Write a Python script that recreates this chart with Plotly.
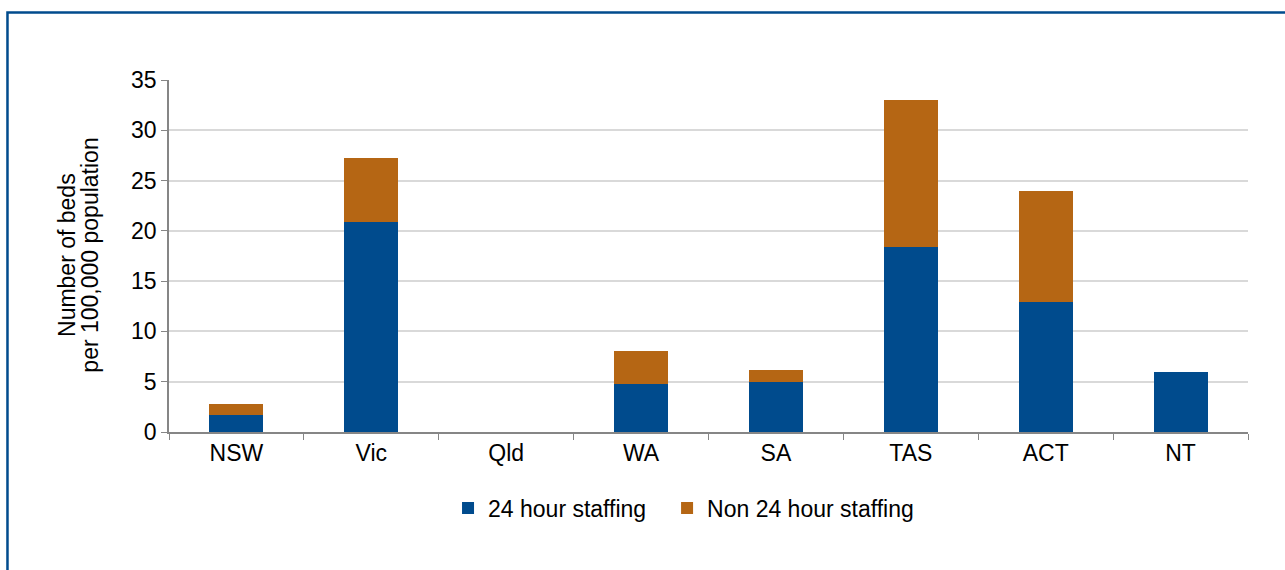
import plotly.graph_objects as go

states = ["NSW", "Vic", "Qld", "WA", "SA", "TAS", "ACT", "NT"]
staff_24h = [1.7, 20.9, 0, 4.8, 5.0, 18.4, 12.9, 6.0]
staff_non24h = [1.1, 6.3, 0, 3.3, 1.2, 14.6, 11.1, 0]
y_ticks = [0, 5, 10, 15, 20, 25, 30, 35]
y_title_lines = ["Number of beds", "per 100,000 population"]

BLUE = "#004b8d"
ORANGE = "#b56614"
FONT = "Liberation Sans, Arial, sans-serif"

fig = go.Figure()
fig.add_trace(go.Bar(x=states, y=staff_24h, name="24 hour staffing",
                     marker=dict(color=BLUE, line=dict(width=0)), legend="legend"))
fig.add_trace(go.Bar(x=states, y=staff_non24h, name="Non 24 hour staffing",
                     marker=dict(color=ORANGE, line=dict(width=0)), legend="legend2"))

for txt, xp in zip(y_title_lines, [-0.0945, -0.0735]):
    fig.add_annotation(text=txt, xref="paper", yref="paper", x=xp, y=0.503,
                       xanchor="center", yanchor="middle", textangle=-90,
                       showarrow=False, font=dict(size=23, family=FONT, color="black"))

leg_common = dict(orientation="h", xanchor="left", y=-0.216, yanchor="middle",
                  font=dict(size=23), bgcolor="rgba(0,0,0,0)")

fig.update_layout(
    barmode="stack",
    bargap=0.6,
    width=1285, height=570,
    margin=dict(l=169, r=37, t=80, b=138),
    paper_bgcolor="white",
    plot_bgcolor="white",
    font=dict(family=FONT, size=23, color="black"),
    showlegend=True,
    legend=dict(x=0.2586, **leg_common),
    legend2=dict(x=0.4616, **leg_common),
    xaxis=dict(
        showline=True, linecolor="#868686", linewidth=1.5,
        ticks="outside", ticklen=6, tickcolor="#868686", tickson="boundaries",
        tickfont=dict(size=23), showgrid=False,
    ),
    yaxis=dict(
        range=[0, 35], tickvals=y_ticks,
        showline=True, linecolor="#868686", linewidth=1.5,
        ticks="outside", ticklen=6, tickcolor="#868686",
        showgrid=True, gridcolor="#d9d9d9", gridwidth=1.5,
        tickfont=dict(size=23), zeroline=False,
    ),
    shapes=[dict(type="rect", xref="paper", yref="paper",
                 x0=-0.1497, x1=1.2, y0=-0.6, y1=1.1918,
                 line=dict(color=BLUE, width=2.5), fillcolor="rgba(0,0,0,0)", layer="below")],
)

fig.write_html("out.html", config={"displayModeBar": False},
               post_script="document.body.style.margin='0';")
